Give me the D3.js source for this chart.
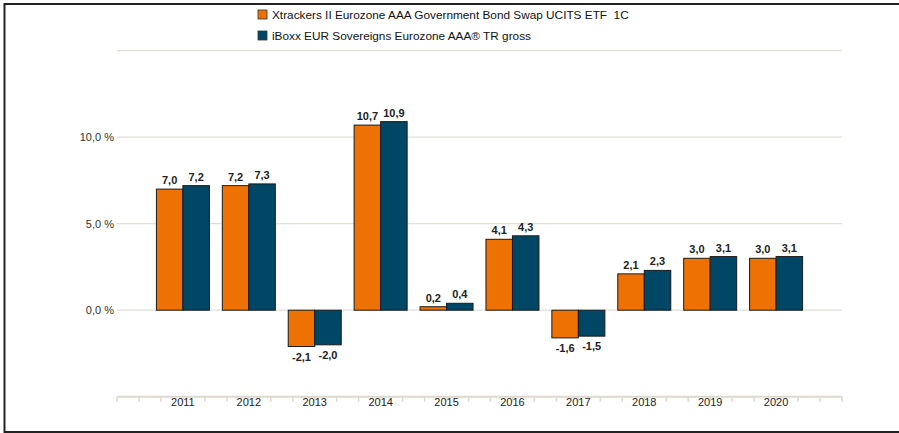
<!DOCTYPE html>
<meta charset="utf-8">
<script src="https://d3js.org/d3.v7.min.js"></script>
<style>
  body { margin: 0; background: #fff; }
  text { font-family: "Liberation Sans", Arial, sans-serif; white-space: pre; }
</style>
<div id="chart"></div>
<script>

// data
var years = ["2011", "2012", "2013", "2014", "2015", "2016", "2017", "2018", "2019", "2020"];
var etfValues = [7.0, 7.2, -2.1, 10.7, 0.2, 4.1, -1.6, 2.1, 3.0, 3.0];
var indexValues = [7.2, 7.3, -2.0, 10.9, 0.4, 4.3, -1.5, 2.3, 3.1, 3.1];
var seriesNames = ["Xtrackers II Eurozone AAA Government Bond Swap UCITS ETF  1C",
                   "iBoxx EUR Sovereigns Eurozone AAA\u00ae TR gross"];
var seriesColors = ["#ee7203", "#004766"];
var yTicks = [0, 5, 10];

var W = 899, H = 433;
var svg = d3.select("#chart").append("svg")
    .attr("width", W).attr("height", H);

// comma decimals, plain hyphen for negatives
function fmt(d) {
  return d3.format(".1f")(d).replace(".", ",").replace("\u2212", "-");
}

// frame
svg.append("rect")
    .attr("x", 4.5).attr("y", 4).attr("width", W + 5).attr("height", 428)
    .attr("fill", "none").attr("stroke", "#222").attr("stroke-width", 2);

// scales: one empty slot of padding on each side of the category band
var x0 = 117, x1 = 842;
var slot = (x1 - x0) / 11;
var x = d3.scalePoint().domain(years).range([x0 + slot, x1 - slot]);
var y = d3.scaleLinear().domain([-5, 15]).range([396.7, 50.7]);

// gridlines
svg.append("g").selectAll("line")
  .data([0, 5, 10, 15])
  .enter().append("line")
    .attr("x1", x0).attr("x2", x1)
    .attr("y1", function(d) { return y(d); })
    .attr("y2", function(d) { return y(d); })
    .attr("stroke", "#e3e0d8").attr("stroke-width", 1.2);

// y labels
svg.append("g").selectAll("text")
  .data(yTicks)
  .enter().append("text")
    .attr("x", 114)
    .attr("y", function(d) { return y(d) + 4; })
    .attr("text-anchor", "end")
    .attr("font-size", 11)
    .attr("fill", "#333")
    .text(function(d) { return fmt(d) + " %"; });

// bottom axis with small ticks every third of a slot
var axisY = y(-5);
svg.append("line")
    .attr("x1", x0).attr("x2", x1)
    .attr("y1", axisY).attr("y2", axisY)
    .attr("stroke", "#ddd9cf").attr("stroke-width", 2);
svg.append("g").selectAll("line")
  .data(d3.range(34))
  .enter().append("line")
    .attr("x1", function(i) { return x0 + i * slot / 3; })
    .attr("x2", function(i) { return x0 + i * slot / 3; })
    .attr("y1", axisY).attr("y2", axisY + 5)
    .attr("stroke", "#ddd9cf").attr("stroke-width", 1.5);

svg.append("g").selectAll("text")
  .data(years)
  .enter().append("text")
    .attr("x", function(d) { return x(d); })
    .attr("y", axisY + 9)
    .attr("text-anchor", "middle")
    .attr("font-size", 11)
    .attr("fill", "#222")
    .text(function(d) { return d; });

// bars
var barW = 26.5;
var series = [etfValues, indexValues];
series.forEach(function(vals, s) {
  var g = svg.append("g");
  g.selectAll("rect")
    .data(vals)
    .enter().append("rect")
      .attr("x", function(d, i) { return x(years[i]) + (s - 1) * barW; })
      .attr("y", function(d) { return y(Math.max(0, d)); })
      .attr("width", barW)
      .attr("height", function(d) { return Math.abs(y(d) - y(0)); })
      .attr("fill", seriesColors[s])
      .attr("stroke", "#1a1a1a").attr("stroke-width", 1);

  g.selectAll("text")
    .data(vals)
    .enter().append("text")
      .attr("x", function(d, i) { return x(years[i]) + (s - 0.5) * barW; })
      .attr("y", function(d) { return d >= 0 ? y(d) - 5 : y(d) + 14; })
      .attr("text-anchor", "middle")
      .attr("font-size", 11)
      .attr("font-weight", "bold")
      .attr("fill", "#222")
      .text(fmt);
});

// legend
var legend = svg.append("g").selectAll("g")
  .data(seriesNames)
  .enter().append("g")
    .attr("transform", function(d, i) { return "translate(258," + (10 + i * 21) + ")"; });
legend.append("rect")
    .attr("width", 9).attr("height", 9)
    .attr("fill", function(d, i) { return seriesColors[i]; })
    .attr("stroke", "#333").attr("stroke-width", 0.8);
legend.append("text")
    .attr("x", 14).attr("y", 9)
    .attr("font-size", 11.8)
    .attr("fill", "#111")
    .text(function(d) { return d; });

</script>
